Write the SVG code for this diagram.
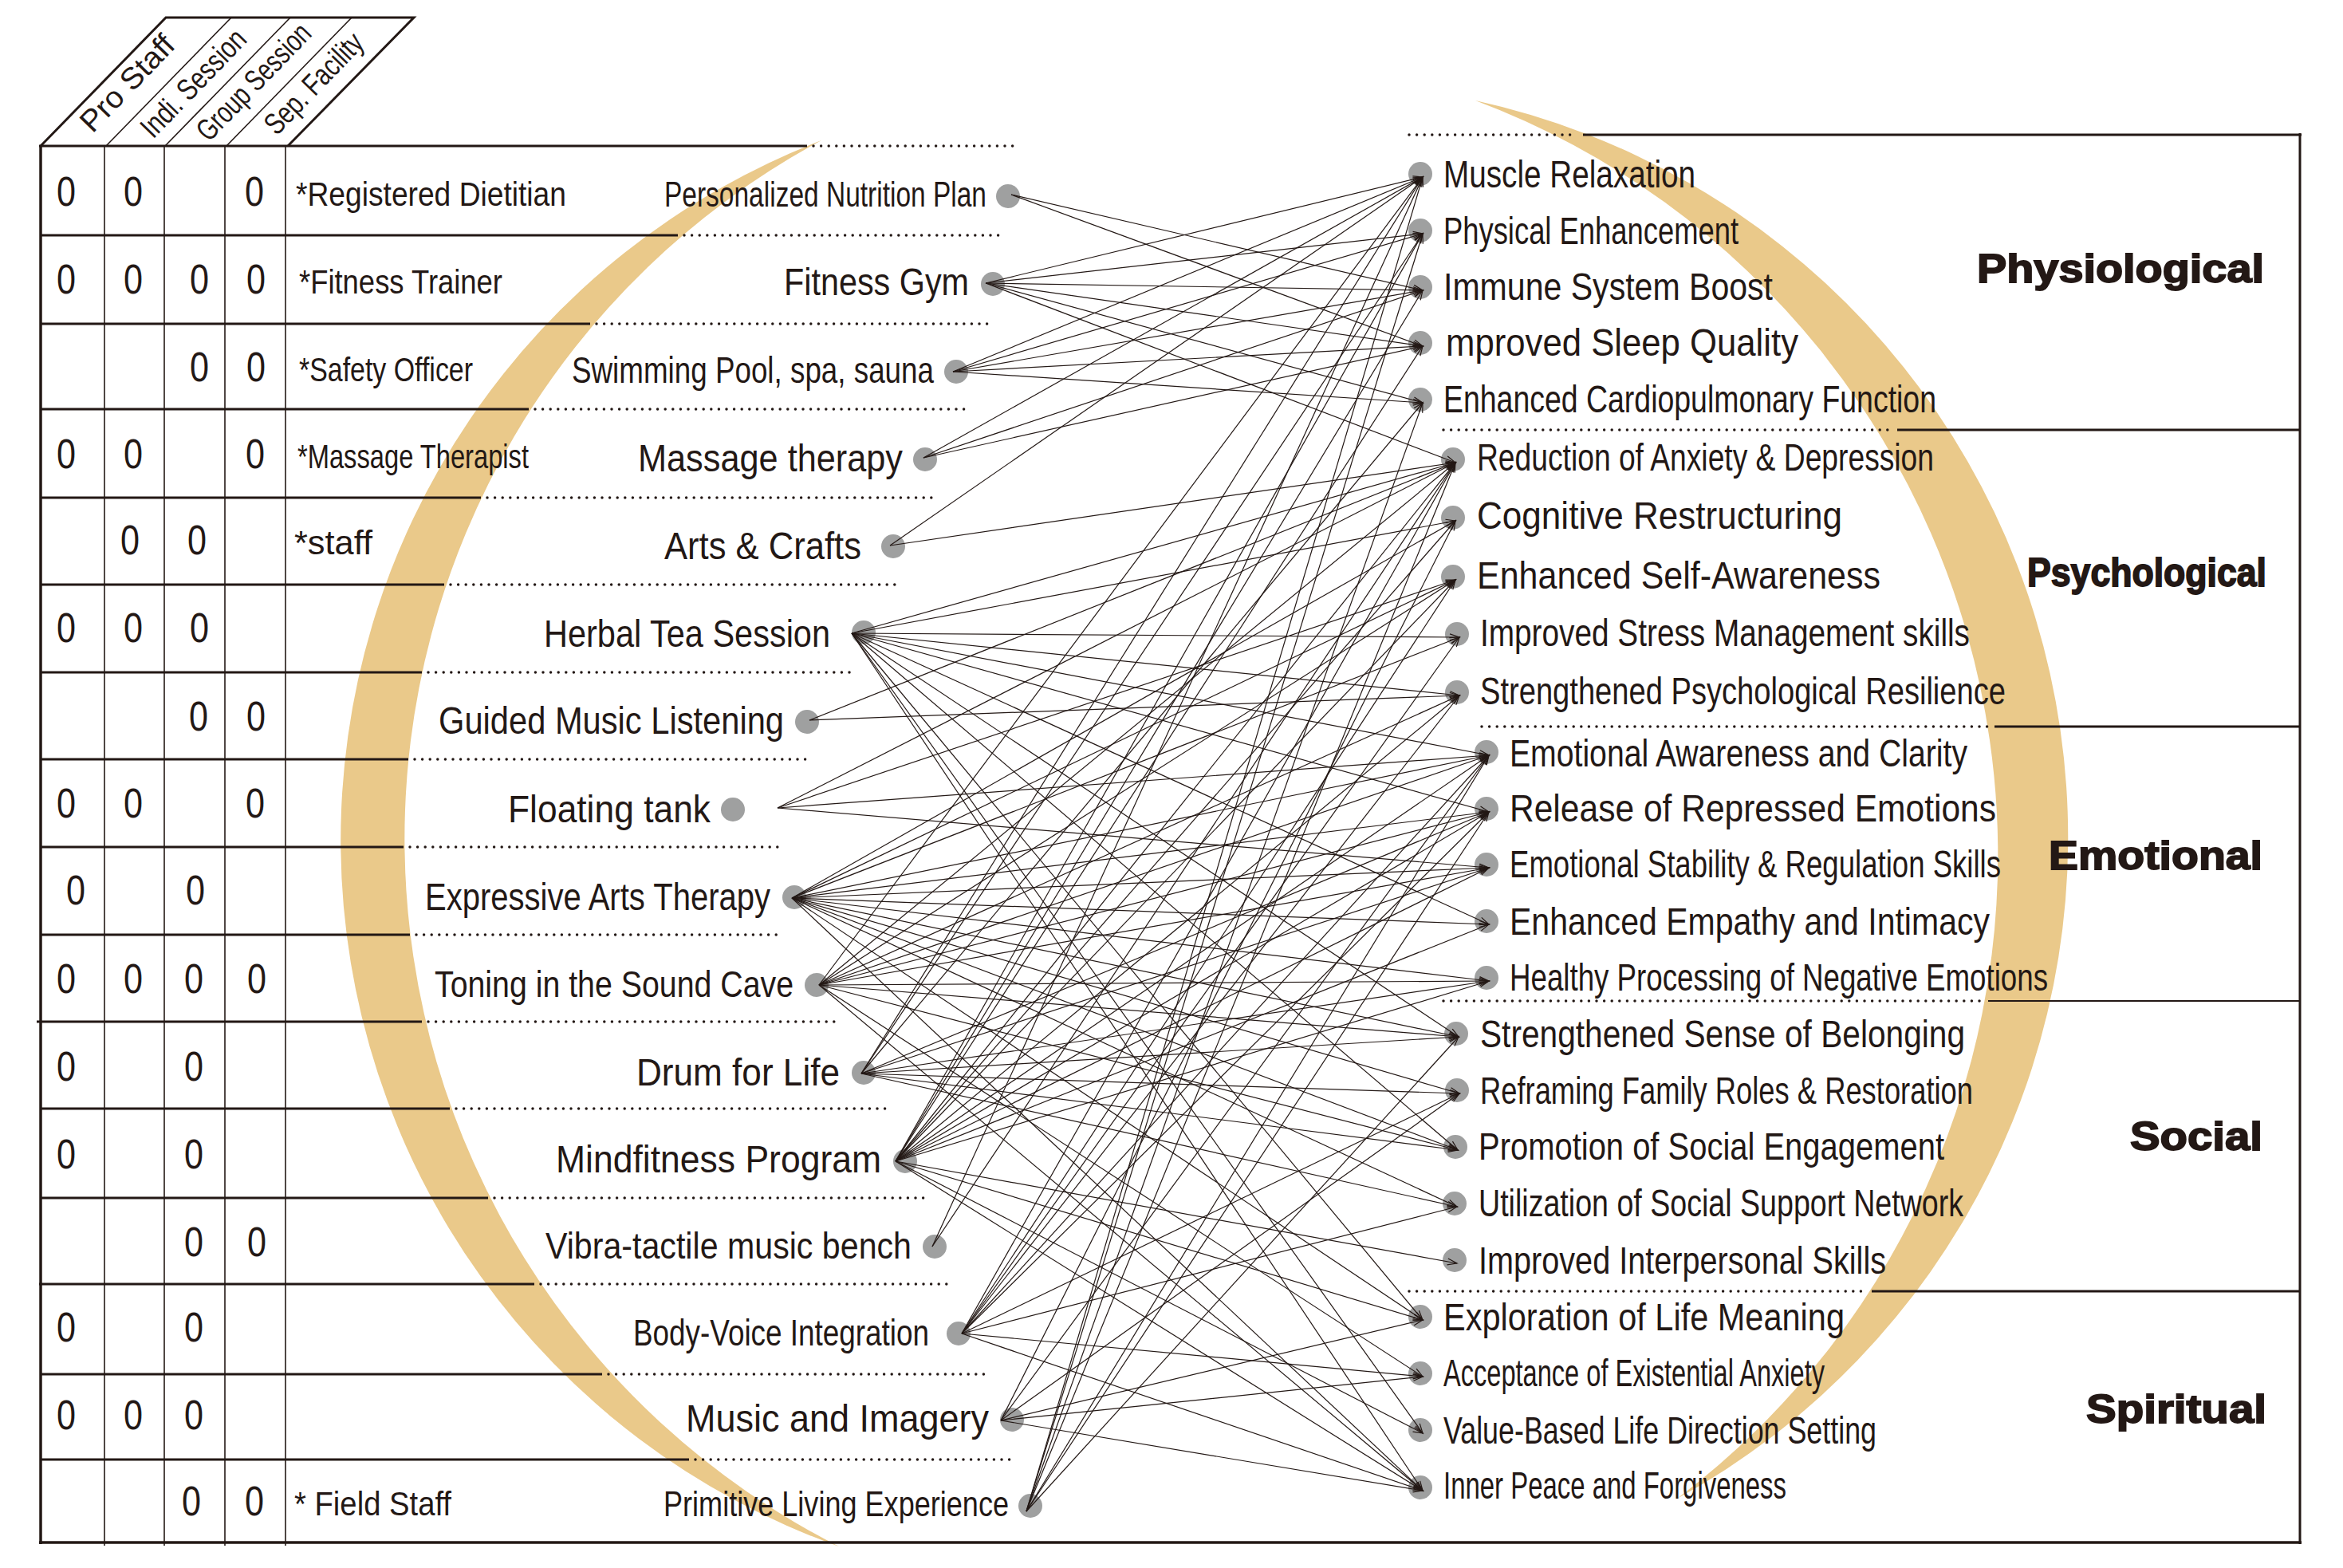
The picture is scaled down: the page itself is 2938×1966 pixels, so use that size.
<svg xmlns="http://www.w3.org/2000/svg" width="2938" height="1966" viewBox="0 0 2938 1966">
<defs>
<style>
.t{font-family:"Liberation Sans",Arial,sans-serif;fill:#231815}
.li{font-size:48px}
.ri{font-size:48px}
.st{font-size:42px}
.z{font-size:52px;text-anchor:middle}
.hd{font-size:38px}
.cat{font-size:50px;font-weight:bold;stroke:#231815;stroke-width:1.8px}
.sol{stroke:#231815;stroke-width:3px;fill:none}
.thin{stroke:#231815;stroke-width:1.6px;fill:none}
.dot{stroke:#231815;stroke-width:3.5px;stroke-linecap:round;stroke-dasharray:0 9.6;fill:none}
.nd{fill:#9fa0a0}
.c line{stroke:#231815;stroke-width:1.2px;marker-end:url(#ah)}
</style>
<marker id="ah" markerUnits="userSpaceOnUse" markerWidth="16" markerHeight="12" refX="13" refY="5" orient="auto">
<path d="M1,1 L13,5 L1,9" fill="none" stroke="#231815" stroke-width="1.2"/>
</marker>
</defs>
<rect width="2938" height="1966" fill="#ffffff"/>
<g id="arcs" fill="#eac98a">
<path d="M1030 176 A940 940 0 0 0 1052 1939 A995 995 0 0 1 1030 176 Z"/>
<path d="M1850 126 A946 946 0 0 1 2103 1879 A1010.5 1010.5 0 0 0 1850 126 Z"/>
</g>
<g id="header">
<polyline class="sol" points="51,183 208,22 519,22 361,183"/>
<line class="thin" x1="133" y1="183" x2="290" y2="22"/>
<line class="thin" x1="207" y1="183" x2="364" y2="22"/>
<line class="thin" x1="284" y1="183" x2="441" y2="22"/>
<text class="t hd" transform="translate(116,168) rotate(-46)" textLength="152" lengthAdjust="spacingAndGlyphs">Pro Staff</text>
<text class="t hd" transform="translate(192,175) rotate(-46)" textLength="172" lengthAdjust="spacingAndGlyphs">Indi. Session</text>
<text class="t hd" transform="translate(262,179) rotate(-46)" textLength="188" lengthAdjust="spacingAndGlyphs">Group Session</text>
<text class="t hd" transform="translate(347,171) rotate(-46)" textLength="160" lengthAdjust="spacingAndGlyphs">Sep. Facility</text>
</g>
<g id="table">
<line x1="51" y1="183" x2="51" y2="1936" stroke="#231815" stroke-width="3.5"/>
<line class="thin" x1="131" y1="183" x2="131" y2="1938"/>
<line class="thin" x1="206" y1="183" x2="206" y2="1938"/>
<line class="thin" x1="282" y1="183" x2="282" y2="1938"/>
<line class="thin" x1="358" y1="183" x2="358" y2="1938"/>
<line class="sol" x1="49" y1="183" x2="1012" y2="183"/><line class="dot" x1="1020" y1="183" x2="1277" y2="183"/>
<line class="sol" x1="51" y1="295" x2="850" y2="295"/><line class="dot" x1="858" y1="295" x2="1256" y2="295"/>
<line class="sol" x1="51" y1="406" x2="740" y2="406"/><line class="dot" x1="748" y1="406" x2="1244" y2="406"/>
<line class="sol" x1="51" y1="513" x2="663" y2="513"/><line class="dot" x1="671" y1="513" x2="1211" y2="513"/>
<line class="sol" x1="51" y1="624" x2="603" y2="624"/><line class="dot" x1="611" y1="624" x2="1176" y2="624"/>
<line class="sol" x1="51" y1="733" x2="557" y2="733"/><line class="dot" x1="565" y1="733" x2="1129" y2="733"/>
<line class="sol" x1="51" y1="843" x2="529" y2="843"/><line class="dot" x1="537" y1="843" x2="1071" y2="843"/>
<line class="sol" x1="51" y1="952" x2="512" y2="952"/><line class="dot" x1="520" y1="952" x2="1018" y2="952"/>
<line class="sol" x1="51" y1="1062" x2="506" y2="1062"/><line class="dot" x1="514" y1="1062" x2="975" y2="1062"/>
<line class="sol" x1="51" y1="1172" x2="514" y2="1172"/><line class="dot" x1="522" y1="1172" x2="980" y2="1172"/>
<line class="sol" x1="46" y1="1281" x2="529" y2="1281"/><line class="dot" x1="537" y1="1281" x2="1049" y2="1281"/>
<line class="sol" x1="51" y1="1390" x2="564" y2="1390"/><line class="dot" x1="572" y1="1390" x2="1111" y2="1390"/>
<line class="sol" x1="51" y1="1502" x2="612" y2="1502"/><line class="dot" x1="620" y1="1502" x2="1161" y2="1502"/>
<line class="sol" x1="49" y1="1610" x2="670" y2="1610"/><line class="dot" x1="678" y1="1610" x2="1196" y2="1610"/>
<line class="sol" x1="51" y1="1723" x2="755" y2="1723"/><line class="dot" x1="763" y1="1723" x2="1237" y2="1723"/>
<line class="sol" x1="51" y1="1830" x2="864" y2="1830"/><line class="dot" x1="872" y1="1830" x2="1273" y2="1830"/>
<line x1="49" y1="1934" x2="2886" y2="1934" stroke="#231815" stroke-width="3.5"/>
</g>
<g id="zeros" class="t z">
<text x="83" y="258" textLength="24" lengthAdjust="spacingAndGlyphs">0</text><text x="167" y="258" textLength="24" lengthAdjust="spacingAndGlyphs">0</text><text x="319" y="258" textLength="24" lengthAdjust="spacingAndGlyphs">0</text>
<text x="83" y="368" textLength="24" lengthAdjust="spacingAndGlyphs">0</text><text x="167" y="368" textLength="24" lengthAdjust="spacingAndGlyphs">0</text><text x="250" y="368" textLength="24" lengthAdjust="spacingAndGlyphs">0</text><text x="321" y="368" textLength="24" lengthAdjust="spacingAndGlyphs">0</text>
<text x="250" y="478" textLength="24" lengthAdjust="spacingAndGlyphs">0</text><text x="321" y="478" textLength="24" lengthAdjust="spacingAndGlyphs">0</text>
<text x="83" y="587" textLength="24" lengthAdjust="spacingAndGlyphs">0</text><text x="167" y="587" textLength="24" lengthAdjust="spacingAndGlyphs">0</text><text x="320" y="587" textLength="24" lengthAdjust="spacingAndGlyphs">0</text>
<text x="163" y="695" textLength="24" lengthAdjust="spacingAndGlyphs">0</text><text x="247" y="695" textLength="24" lengthAdjust="spacingAndGlyphs">0</text>
<text x="83" y="805" textLength="24" lengthAdjust="spacingAndGlyphs">0</text><text x="167" y="805" textLength="24" lengthAdjust="spacingAndGlyphs">0</text><text x="250" y="805" textLength="24" lengthAdjust="spacingAndGlyphs">0</text>
<text x="249" y="916" textLength="24" lengthAdjust="spacingAndGlyphs">0</text><text x="321" y="916" textLength="24" lengthAdjust="spacingAndGlyphs">0</text>
<text x="83" y="1025" textLength="24" lengthAdjust="spacingAndGlyphs">0</text><text x="167" y="1025" textLength="24" lengthAdjust="spacingAndGlyphs">0</text><text x="320" y="1025" textLength="24" lengthAdjust="spacingAndGlyphs">0</text>
<text x="95" y="1134" textLength="24" lengthAdjust="spacingAndGlyphs">0</text><text x="245" y="1134" textLength="24" lengthAdjust="spacingAndGlyphs">0</text>
<text x="83" y="1245" textLength="24" lengthAdjust="spacingAndGlyphs">0</text><text x="167" y="1245" textLength="24" lengthAdjust="spacingAndGlyphs">0</text><text x="243" y="1245" textLength="24" lengthAdjust="spacingAndGlyphs">0</text><text x="322" y="1245" textLength="24" lengthAdjust="spacingAndGlyphs">0</text>
<text x="83" y="1355" textLength="24" lengthAdjust="spacingAndGlyphs">0</text><text x="243" y="1355" textLength="24" lengthAdjust="spacingAndGlyphs">0</text>
<text x="83" y="1465" textLength="24" lengthAdjust="spacingAndGlyphs">0</text><text x="243" y="1465" textLength="24" lengthAdjust="spacingAndGlyphs">0</text>
<text x="243" y="1575" textLength="24" lengthAdjust="spacingAndGlyphs">0</text><text x="322" y="1575" textLength="24" lengthAdjust="spacingAndGlyphs">0</text>
<text x="83" y="1682" textLength="24" lengthAdjust="spacingAndGlyphs">0</text><text x="243" y="1682" textLength="24" lengthAdjust="spacingAndGlyphs">0</text>
<text x="83" y="1792" textLength="24" lengthAdjust="spacingAndGlyphs">0</text><text x="167" y="1792" textLength="24" lengthAdjust="spacingAndGlyphs">0</text><text x="243" y="1792" textLength="24" lengthAdjust="spacingAndGlyphs">0</text>
<text x="240" y="1900" textLength="24" lengthAdjust="spacingAndGlyphs">0</text><text x="319" y="1900" textLength="24" lengthAdjust="spacingAndGlyphs">0</text>
</g>
<g id="staff" class="t st">
<text x="371" y="258" textLength="339" lengthAdjust="spacingAndGlyphs">*Registered Dietitian</text>
<text x="375" y="368" textLength="255" lengthAdjust="spacingAndGlyphs">*Fitness Trainer</text>
<text x="375" y="478" textLength="218" lengthAdjust="spacingAndGlyphs">*Safety Officer</text>
<text x="373" y="587" textLength="290" lengthAdjust="spacingAndGlyphs">*Massage Therapist</text>
<text x="369" y="695" textLength="98" lengthAdjust="spacingAndGlyphs">*staff</text>
<text x="369" y="1900" textLength="197" lengthAdjust="spacingAndGlyphs">* Field Staff</text>
</g>
<g id="left-nodes" class="t li">
<g id="n-nutrition"><text x="833" y="259" font-size="44" textLength="404" lengthAdjust="spacingAndGlyphs">Personalized Nutrition Plan</text><circle class="nd" cx="1264" cy="246" r="15"/></g>
<g id="n-gym"><text x="983" y="370" textLength="232" lengthAdjust="spacingAndGlyphs">Fitness Gym</text><circle class="nd" cx="1245" cy="356" r="15"/></g>
<g id="n-swim"><text x="717" y="480" font-size="46" textLength="454" lengthAdjust="spacingAndGlyphs">Swimming Pool, spa, sauna</text><circle class="nd" cx="1199" cy="466" r="15"/></g>
<g id="n-massage"><text x="800" y="591" textLength="332" lengthAdjust="spacingAndGlyphs">Massage therapy</text><circle class="nd" cx="1160" cy="576" r="15"/></g>
<g id="n-arts"><text x="833" y="701" textLength="247" lengthAdjust="spacingAndGlyphs">Arts &amp; Crafts</text><circle class="nd" cx="1120" cy="685" r="15"/></g>
<g id="n-herbal"><text x="682" y="811" textLength="359" lengthAdjust="spacingAndGlyphs">Herbal Tea Session</text><circle class="nd" cx="1083" cy="793" r="15"/></g>
<g id="n-guided"><text x="550" y="920" textLength="433" lengthAdjust="spacingAndGlyphs">Guided Music Listening</text><circle class="nd" cx="1012" cy="905" r="15"/></g>
<g id="n-floating"><text x="637" y="1031" textLength="254" lengthAdjust="spacingAndGlyphs">Floating tank</text><circle class="nd" cx="919" cy="1015" r="15"/></g>
<g id="n-expressive"><text x="533" y="1141" textLength="433" lengthAdjust="spacingAndGlyphs">Expressive Arts Therapy</text><circle class="nd" cx="996" cy="1125" r="15"/></g>
<g id="n-toning"><text x="545" y="1250" font-size="46" textLength="450" lengthAdjust="spacingAndGlyphs">Toning in the Sound Cave</text><circle class="nd" cx="1024" cy="1235" r="15"/></g>
<g id="n-drum"><text x="798" y="1361" textLength="255" lengthAdjust="spacingAndGlyphs">Drum for Life</text><circle class="nd" cx="1083" cy="1345" r="15"/></g>
<g id="n-mind"><text x="697" y="1470" textLength="408" lengthAdjust="spacingAndGlyphs">Mindfitness Program</text><circle class="nd" cx="1135" cy="1456" r="15"/></g>
<g id="n-vibra"><text x="684" y="1578" font-size="46" textLength="459" lengthAdjust="spacingAndGlyphs">Vibra-tactile music bench</text><circle class="nd" cx="1172" cy="1563" r="15"/></g>
<g id="n-bodyvoice"><text x="794" y="1687" font-size="46" textLength="371" lengthAdjust="spacingAndGlyphs">Body-Voice Integration</text><circle class="nd" cx="1202" cy="1672" r="15"/></g>
<g id="n-imagery"><text x="860" y="1795" textLength="380" lengthAdjust="spacingAndGlyphs">Music and Imagery</text><circle class="nd" cx="1269" cy="1780" r="15"/></g>
<g id="n-primitive"><text x="832" y="1901" font-size="44" textLength="433" lengthAdjust="spacingAndGlyphs">Primitive Living Experience</text><circle class="nd" cx="1292" cy="1888" r="15"/></g>
</g>
<g id="right-box">
<line class="dot" x1="1767" y1="169" x2="1978" y2="169"/><line class="sol" x1="1985" y1="169" x2="2886" y2="169"/>
<line class="dot" x1="1810" y1="539" x2="2372" y2="539"/><line class="sol" x1="2379" y1="539" x2="2884" y2="539"/>
<line class="dot" x1="1858" y1="911" x2="2494" y2="911"/><line class="sol" x1="2501" y1="911" x2="2884" y2="911"/>
<line class="dot" x1="1810" y1="1255" x2="2486" y2="1255"/><line x1="2493" y1="1255" x2="2884" y2="1255" stroke="#231815" stroke-width="2"/>
<line class="dot" x1="1767" y1="1619" x2="2340" y2="1619"/><line class="sol" x1="2347" y1="1619" x2="2884" y2="1619"/>
<line class="sol" x1="2884" y1="167" x2="2884" y2="1936"/>
</g>
<g id="categories" class="t cat">
<text x="2479" y="354" textLength="360" lengthAdjust="spacingAndGlyphs">Physiological</text>
<text x="2542" y="735" textLength="300" lengthAdjust="spacingAndGlyphs">Psychological</text>
<text x="2569" y="1090" textLength="268" lengthAdjust="spacingAndGlyphs">Emotional</text>
<text x="2671" y="1442" textLength="166" lengthAdjust="spacingAndGlyphs">Social</text>
<text x="2616" y="1784" textLength="226" lengthAdjust="spacingAndGlyphs">Spiritual</text>
</g>
<g id="right-nodes" class="t ri">
<g id="r1"><circle class="nd" cx="1781" cy="218" r="15"/><text x="1810" y="235" textLength="316" lengthAdjust="spacingAndGlyphs">Muscle Relaxation</text></g>
<g id="r2"><circle class="nd" cx="1781" cy="289" r="15"/><text x="1810" y="306" textLength="370" lengthAdjust="spacingAndGlyphs">Physical Enhancement</text></g>
<g id="r3"><circle class="nd" cx="1781" cy="360" r="15"/><text x="1810" y="376" textLength="413" lengthAdjust="spacingAndGlyphs">Immune System Boost</text></g>
<g id="r4"><circle class="nd" cx="1781" cy="430" r="15"/><text x="1813" y="446" textLength="442" lengthAdjust="spacingAndGlyphs">mproved Sleep Quality</text></g>
<g id="r5"><circle class="nd" cx="1781" cy="501" r="15"/><text x="1810" y="517" textLength="618" lengthAdjust="spacingAndGlyphs">Enhanced Cardiopulmonary Function</text></g>
<g id="r6"><circle class="nd" cx="1822" cy="576" r="15"/><text x="1852" y="590" textLength="573" lengthAdjust="spacingAndGlyphs">Reduction of Anxiety &amp; Depression</text></g>
<g id="r7"><circle class="nd" cx="1822" cy="649" r="15"/><text x="1852" y="663" textLength="458" lengthAdjust="spacingAndGlyphs">Cognitive Restructuring</text></g>
<g id="r8"><circle class="nd" cx="1822" cy="723" r="15"/><text x="1852" y="738" textLength="506" lengthAdjust="spacingAndGlyphs">Enhanced Self-Awareness</text></g>
<g id="r9"><circle class="nd" cx="1827" cy="795" r="15"/><text x="1856" y="810" textLength="614" lengthAdjust="spacingAndGlyphs">Improved Stress Management skills</text></g>
<g id="r10"><circle class="nd" cx="1827" cy="868" r="15"/><text x="1856" y="883" textLength="659" lengthAdjust="spacingAndGlyphs">Strengthened Psychological Resilience</text></g>
<g id="r11"><circle class="nd" cx="1864" cy="943" r="15"/><text x="1893" y="961" textLength="574" lengthAdjust="spacingAndGlyphs">Emotional Awareness and Clarity</text></g>
<g id="r12"><circle class="nd" cx="1864" cy="1014" r="15"/><text x="1893" y="1030" textLength="610" lengthAdjust="spacingAndGlyphs">Release of Repressed Emotions</text></g>
<g id="r13"><circle class="nd" cx="1864" cy="1084" r="15"/><text x="1893" y="1100" textLength="616" lengthAdjust="spacingAndGlyphs">Emotional Stability &amp; Regulation Skills</text></g>
<g id="r14"><circle class="nd" cx="1864" cy="1155" r="15"/><text x="1893" y="1172" textLength="602" lengthAdjust="spacingAndGlyphs">Enhanced Empathy and Intimacy</text></g>
<g id="r15"><circle class="nd" cx="1864" cy="1226" r="15"/><text x="1893" y="1242" textLength="675" lengthAdjust="spacingAndGlyphs">Healthy Processing of Negative Emotions</text></g>
<g id="r16"><circle class="nd" cx="1826" cy="1296" r="15"/><text x="1856" y="1313" textLength="608" lengthAdjust="spacingAndGlyphs">Strengthened Sense of Belonging</text></g>
<g id="r17"><circle class="nd" cx="1827" cy="1367" r="15"/><text x="1856" y="1384" textLength="618" lengthAdjust="spacingAndGlyphs">Reframing Family Roles &amp; Restoration</text></g>
<g id="r18"><circle class="nd" cx="1825" cy="1438" r="15"/><text x="1854" y="1454" textLength="584" lengthAdjust="spacingAndGlyphs">Promotion of Social Engagement</text></g>
<g id="r19"><circle class="nd" cx="1824" cy="1509" r="15"/><text x="1854" y="1525" textLength="608" lengthAdjust="spacingAndGlyphs">Utilization of Social Support Network</text></g>
<g id="r20"><circle class="nd" cx="1824" cy="1580" r="15"/><text x="1854" y="1597" textLength="511" lengthAdjust="spacingAndGlyphs">Improved Interpersonal Skills</text></g>
<g id="r21"><circle class="nd" cx="1781" cy="1651" r="15"/><text x="1810" y="1668" textLength="503" lengthAdjust="spacingAndGlyphs">Exploration of Life Meaning</text></g>
<g id="r22"><circle class="nd" cx="1781" cy="1722" r="15"/><text x="1810" y="1738" textLength="478" lengthAdjust="spacingAndGlyphs">Acceptance of Existential Anxiety</text></g>
<g id="r23"><circle class="nd" cx="1781" cy="1793" r="15"/><text x="1810" y="1810" textLength="543" lengthAdjust="spacingAndGlyphs">Value-Based Life Direction Setting</text></g>
<g id="r24"><circle class="nd" cx="1781" cy="1865" r="15"/><text x="1810" y="1879" textLength="430" lengthAdjust="spacingAndGlyphs">Inner Peace and Forgiveness</text></g>
</g>
<g id="connectors" class="c">
<line x1="1268" y1="244" x2="1784" y2="364"/>
<line x1="1268" y1="244" x2="1784" y2="434"/>
<line x1="1236" y1="355" x2="1784" y2="222"/>
<line x1="1236" y1="355" x2="1784" y2="293"/>
<line x1="1236" y1="355" x2="1784" y2="364"/>
<line x1="1236" y1="355" x2="1784" y2="434"/>
<line x1="1236" y1="355" x2="1784" y2="505"/>
<line x1="1236" y1="355" x2="1825" y2="580"/>
<line x1="1195" y1="466" x2="1784" y2="222"/>
<line x1="1195" y1="466" x2="1784" y2="293"/>
<line x1="1195" y1="466" x2="1784" y2="364"/>
<line x1="1195" y1="466" x2="1784" y2="434"/>
<line x1="1195" y1="466" x2="1784" y2="505"/>
<line x1="1158" y1="574" x2="1784" y2="222"/>
<line x1="1158" y1="574" x2="1784" y2="364"/>
<line x1="1158" y1="574" x2="1784" y2="434"/>
<line x1="1116" y1="684" x2="1784" y2="222"/>
<line x1="1116" y1="684" x2="1825" y2="580"/>
<line x1="1068" y1="794" x2="1825" y2="580"/>
<line x1="1068" y1="794" x2="1825" y2="653"/>
<line x1="1068" y1="794" x2="1830" y2="799"/>
<line x1="1068" y1="794" x2="1830" y2="872"/>
<line x1="1068" y1="794" x2="1867" y2="947"/>
<line x1="1068" y1="794" x2="1867" y2="1018"/>
<line x1="1068" y1="794" x2="1867" y2="1159"/>
<line x1="1068" y1="794" x2="1829" y2="1300"/>
<line x1="1068" y1="794" x2="1828" y2="1442"/>
<line x1="1068" y1="794" x2="1784" y2="1655"/>
<line x1="1068" y1="794" x2="1784" y2="1797"/>
<line x1="1068" y1="794" x2="1784" y2="1869"/>
<line x1="1015" y1="903" x2="1825" y2="580"/>
<line x1="1015" y1="903" x2="1830" y2="872"/>
<line x1="975" y1="1013" x2="1825" y2="580"/>
<line x1="975" y1="1013" x2="1825" y2="727"/>
<line x1="975" y1="1013" x2="1867" y2="947"/>
<line x1="975" y1="1013" x2="1867" y2="1088"/>
<line x1="993" y1="1126" x2="1825" y2="653"/>
<line x1="993" y1="1126" x2="1825" y2="727"/>
<line x1="993" y1="1126" x2="1830" y2="799"/>
<line x1="993" y1="1126" x2="1867" y2="947"/>
<line x1="993" y1="1126" x2="1867" y2="1018"/>
<line x1="993" y1="1126" x2="1867" y2="1088"/>
<line x1="993" y1="1126" x2="1867" y2="1159"/>
<line x1="993" y1="1126" x2="1867" y2="1230"/>
<line x1="993" y1="1126" x2="1829" y2="1300"/>
<line x1="993" y1="1126" x2="1830" y2="1371"/>
<line x1="993" y1="1126" x2="1828" y2="1442"/>
<line x1="993" y1="1126" x2="1827" y2="1513"/>
<line x1="993" y1="1126" x2="1784" y2="1655"/>
<line x1="993" y1="1126" x2="1784" y2="1869"/>
<line x1="1027" y1="1235" x2="1784" y2="222"/>
<line x1="1027" y1="1235" x2="1825" y2="580"/>
<line x1="1027" y1="1235" x2="1825" y2="727"/>
<line x1="1027" y1="1235" x2="1830" y2="872"/>
<line x1="1027" y1="1235" x2="1867" y2="947"/>
<line x1="1027" y1="1235" x2="1867" y2="1018"/>
<line x1="1027" y1="1235" x2="1867" y2="1088"/>
<line x1="1027" y1="1235" x2="1867" y2="1230"/>
<line x1="1027" y1="1235" x2="1829" y2="1300"/>
<line x1="1027" y1="1235" x2="1828" y2="1442"/>
<line x1="1027" y1="1235" x2="1784" y2="1726"/>
<line x1="1027" y1="1235" x2="1784" y2="1869"/>
<line x1="1080" y1="1346" x2="1784" y2="222"/>
<line x1="1080" y1="1346" x2="1784" y2="293"/>
<line x1="1080" y1="1346" x2="1784" y2="505"/>
<line x1="1080" y1="1346" x2="1867" y2="1018"/>
<line x1="1080" y1="1346" x2="1867" y2="1088"/>
<line x1="1080" y1="1346" x2="1867" y2="1230"/>
<line x1="1080" y1="1346" x2="1829" y2="1300"/>
<line x1="1080" y1="1346" x2="1830" y2="1371"/>
<line x1="1080" y1="1346" x2="1828" y2="1442"/>
<line x1="1080" y1="1346" x2="1827" y2="1513"/>
<line x1="1123" y1="1456" x2="1784" y2="293"/>
<line x1="1123" y1="1456" x2="1784" y2="364"/>
<line x1="1123" y1="1456" x2="1784" y2="434"/>
<line x1="1123" y1="1456" x2="1825" y2="580"/>
<line x1="1123" y1="1456" x2="1825" y2="653"/>
<line x1="1123" y1="1456" x2="1825" y2="727"/>
<line x1="1123" y1="1456" x2="1830" y2="872"/>
<line x1="1123" y1="1456" x2="1867" y2="947"/>
<line x1="1123" y1="1456" x2="1867" y2="1018"/>
<line x1="1123" y1="1456" x2="1867" y2="1088"/>
<line x1="1123" y1="1456" x2="1867" y2="1159"/>
<line x1="1123" y1="1456" x2="1867" y2="1230"/>
<line x1="1123" y1="1456" x2="1827" y2="1584"/>
<line x1="1123" y1="1456" x2="1784" y2="1655"/>
<line x1="1123" y1="1456" x2="1784" y2="1797"/>
<line x1="1123" y1="1456" x2="1784" y2="1869"/>
<line x1="1169" y1="1563" x2="1784" y2="222"/>
<line x1="1169" y1="1563" x2="1825" y2="580"/>
<line x1="1206" y1="1672" x2="1825" y2="580"/>
<line x1="1206" y1="1672" x2="1825" y2="727"/>
<line x1="1206" y1="1672" x2="1830" y2="799"/>
<line x1="1206" y1="1672" x2="1830" y2="872"/>
<line x1="1206" y1="1672" x2="1867" y2="947"/>
<line x1="1206" y1="1672" x2="1867" y2="1018"/>
<line x1="1206" y1="1672" x2="1830" y2="1371"/>
<line x1="1206" y1="1672" x2="1827" y2="1513"/>
<line x1="1206" y1="1672" x2="1784" y2="1726"/>
<line x1="1206" y1="1672" x2="1784" y2="1869"/>
<line x1="1255" y1="1781" x2="1825" y2="653"/>
<line x1="1255" y1="1781" x2="1867" y2="947"/>
<line x1="1255" y1="1781" x2="1830" y2="1371"/>
<line x1="1255" y1="1781" x2="1784" y2="1655"/>
<line x1="1255" y1="1781" x2="1784" y2="1726"/>
<line x1="1255" y1="1781" x2="1784" y2="1869"/>
<line x1="1287" y1="1895" x2="1784" y2="222"/>
<line x1="1287" y1="1895" x2="1784" y2="293"/>
<line x1="1287" y1="1895" x2="1784" y2="505"/>
<line x1="1287" y1="1895" x2="1825" y2="580"/>
<line x1="1287" y1="1895" x2="1867" y2="947"/>
<line x1="1287" y1="1895" x2="1867" y2="1018"/>
<line x1="1287" y1="1895" x2="1829" y2="1300"/>
</g>
</svg>
